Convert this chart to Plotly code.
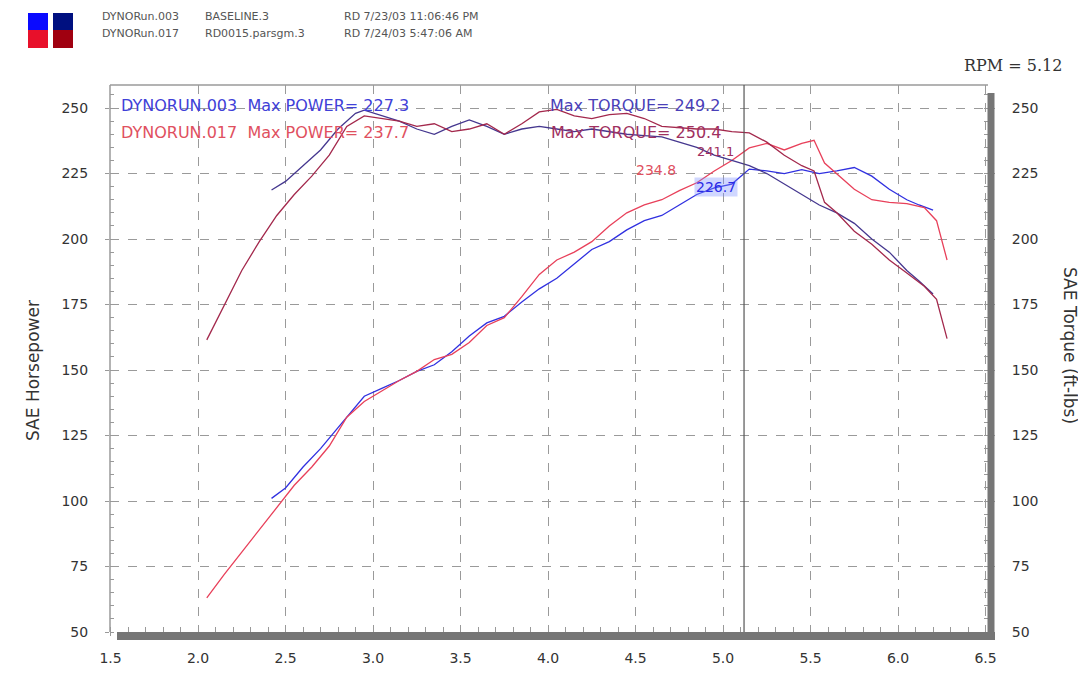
import plotly.graph_objects as go

# ---------------- data ----------------
rpm_017 = [2.05, 2.15, 2.25, 2.35, 2.45, 2.55, 2.65, 2.75, 2.85, 2.95, 3.05, 3.15, 3.25, 3.35,
           3.45, 3.55, 3.65, 3.75, 3.85, 3.95, 4.05, 4.15, 4.25, 4.35, 4.45, 4.55, 4.65, 4.75,
           4.85, 4.95, 5.05, 5.15, 5.25, 5.35, 5.45, 5.52, 5.58, 5.65, 5.75, 5.85, 5.95, 6.05,
           6.15, 6.22, 6.28]
tq_017 = [161.5, 175, 188, 199, 209, 217, 224, 232, 243, 247, 246, 245, 243, 244,
          241, 242, 244, 240, 244, 248.5, 249.5, 247, 246, 247.5, 248, 246, 243, 242.5,
          242, 242, 241, 240.5, 237, 232, 228, 226, 214, 210, 203, 198, 192, 187,
          182, 177, 162]
hp_017 = [63, 72, 80.5, 89, 97.5, 106, 113, 121, 132, 138, 142, 146, 149.5, 154,
          156, 160.5, 167, 170, 178, 186.5, 192, 195, 199, 205, 210, 213, 215, 218.5,
          221.5, 226, 230, 234.8, 236.5, 234, 236.5, 237.7, 229, 225, 219, 215, 214, 213.5,
          212, 207, 192]

rpm_003 = [2.42, 2.5, 2.6, 2.7, 2.8, 2.9, 2.95, 3.05, 3.15, 3.25, 3.35, 3.45, 3.55, 3.65,
           3.75, 3.85, 3.95, 4.05, 4.15, 4.25, 4.35, 4.45, 4.55, 4.65, 4.75, 4.85, 4.95, 5.05,
           5.15, 5.25, 5.35, 5.45, 5.55, 5.65, 5.75, 5.85, 5.95, 6.05, 6.12, 6.2]
tq_003 = [218.7, 222, 228, 234, 242, 248, 249.2, 247, 245, 242, 240, 243, 245.5, 243,
          240, 242, 243, 242, 241, 242, 241, 240, 239.5, 239, 237, 235, 232, 230,
          228, 225, 221, 217, 213, 210, 206, 200, 195, 188, 184, 179]
hp_003 = [101, 105, 113, 120, 128, 136, 140, 143, 146, 149.5, 152, 157, 163, 168,
          170.5, 176, 181, 185, 190.5, 196, 199, 203.5, 207, 209, 213, 217, 219.5, 221,
          226.7, 226, 225, 226.5, 225, 226, 227.3, 224, 219, 215, 213, 211]

x_ticks = [1.5, 2.0, 2.5, 3.0, 3.5, 4.0, 4.5, 5.0, 5.5, 6.0, 6.5]
y_ticks = [50, 75, 100, 125, 150, 175, 200, 225, 250]
cursor_rpm = 5.12

legend_rows = [
    ["DYNORun.003", "BASELINE.3", "RD 7/23/03 11:06:46 PM"],
    ["DYNORun.017", "RD0015.parsgm.3", "RD 7/24/03 5:47:06 AM"],
]

C_HP003 = "#3030e0"
C_TQ003 = "#45378f"
C_HP017 = "#e8405a"
C_TQ017 = "#a3284c"

# the page body adds an 8 px offset; geometry below is in page pixels
OFF = 8
FIG_W, FIG_H = 1086 - OFF, 677 - OFF
L, R, T, B = 110, 988, 85, 632
W, H = R - L, B - T


def px(xp):
    return (xp - L) / W


def py(yp):
    return (B - yp) / H


fig = go.Figure()
fig.add_trace(go.Scatter(x=rpm_003, y=hp_003, mode="lines", line=dict(color=C_HP003, width=1.3),
                         showlegend=False))
fig.add_trace(go.Scatter(x=rpm_017, y=hp_017, mode="lines", line=dict(color=C_HP017, width=1.3),
                         showlegend=False))
fig.add_trace(go.Scatter(x=rpm_003, y=tq_003, mode="lines", line=dict(color=C_TQ003, width=1.3),
                         showlegend=False))
fig.add_trace(go.Scatter(x=rpm_017, y=tq_017, mode="lines", line=dict(color=C_TQ017, width=1.3),
                         showlegend=False))
fig.add_trace(go.Scatter(x=[None], y=[None], yaxis="y2", showlegend=False))

tick_font = dict(family="DejaVu Sans", size=14, color="#333333")
yr = [50, 258.8]
xr = [1.497, 6.514]

fig.update_layout(
    width=FIG_W, height=FIG_H,
    margin=dict(l=L - OFF, r=FIG_W - (R - OFF), t=T - OFF, b=FIG_H - (B - OFF), autoexpand=False),
    paper_bgcolor="white", plot_bgcolor="white",
    xaxis=dict(range=xr, tickvals=x_ticks, ticktext=[f"{v:.1f}" for v in x_ticks],
               showgrid=True, gridcolor="#9a9a9a", griddash="dash", gridwidth=1,
               ticks="outside", ticklen=3, tickcolor="#999", tickfont=tick_font,
               minor=dict(dtick=0.1, ticks="inside", ticklen=5, tickcolor="#999", showgrid=False),
               zeroline=False, showline=False, automargin=False, ticklabelstandoff=10),
    yaxis=dict(range=yr, tickvals=y_ticks, showgrid=True, gridcolor="#9a9a9a", griddash="dash",
               ticks="outside", ticklen=4, tickcolor="#999", tickfont=tick_font,
               minor=dict(dtick=5, ticks="inside", ticklen=4, tickcolor="#999", showgrid=False),
               zeroline=False, showline=False, ticklabelstandoff=14, automargin=False),
    yaxis2=dict(range=yr, tickvals=y_ticks, overlaying="y", side="right", showgrid=False,
                ticks="outside", ticklen=6, tickcolor="#999", tickfont=tick_font,
                minor=dict(dtick=5, ticks="inside", ticklen=4, tickcolor="#999"),
                zeroline=False, showline=False, ticklabelstandoff=14, automargin=False),
    font=dict(family="DejaVu Sans"),
)

# frame: thin top/left, thick dark right/bottom (shadow)
fig.add_shape(type="line", xref="paper", yref="paper", x0=0, x1=1, y0=1, y1=1,
              line=dict(color="#9a9a9a", width=1.5))
fig.add_shape(type="line", xref="paper", yref="paper", x0=0, x1=0, y0=0, y1=1,
              line=dict(color="#9a9a9a", width=1.5))
fig.add_shape(type="line", xref="paper", yref="paper", x0=px(117), x1=px(995), y0=py(636), y1=py(636),
              line=dict(color="#767676", width=8))
fig.add_shape(type="line", xref="paper", yref="paper", x0=px(991), x1=px(991), y0=py(640), y1=py(93),
              line=dict(color="#767676", width=7))

# cursor line
fig.add_shape(type="line", xref="x", yref="paper", x0=cursor_rpm, x1=cursor_rpm, y0=0, y1=1,
              line=dict(color="#555555", width=1.2))

# text annotations
fig.add_annotation(xref="paper", yref="paper", x=px(1013), y=py(65), xanchor="center",
                   yanchor="middle", text=f"RPM = {cursor_rpm}", showarrow=False,
                   font=dict(family="DejaVu Serif", size=16, color="#333333"))

ann_font = "DejaVu Sans"
fig.add_annotation(x=1.549, y=250.8, xanchor="left", showarrow=False,
                   text="DYNORUN.003  Max POWER= 227.3",
                   font=dict(family=ann_font, size=16, color="#4040d8"))
fig.add_annotation(x=1.549, y=240.5, xanchor="left", showarrow=False,
                   text="DYNORUN.017  Max POWER= 237.7",
                   font=dict(family=ann_font, size=16, color="#e05060"))
fig.add_annotation(x=4.0, y=250.8, xanchor="left", showarrow=False,
                   text="Max TORQUE= 249.2", font=dict(family=ann_font, size=16, color="#4a40b8"))
fig.add_annotation(x=4.006, y=240.8, xanchor="left", showarrow=False,
                   text="Max TORQUE= 250.4", font=dict(family=ann_font, size=16, color="#a03060"))
fig.add_annotation(x=4.84, y=233.3, xanchor="left", showarrow=False,
                   text="241.1", font=dict(family=ann_font, size=13, color="#a03060"))
fig.add_annotation(x=4.49, y=226.3, xanchor="left", showarrow=False,
                   text="234.8", font=dict(family=ann_font, size=14, color="#e05060"))
fig.add_annotation(x=4.835, y=219.8, xanchor="left", showarrow=False,
                   text="226.7", font=dict(family=ann_font, size=14, color="#2b2be6"),
                   bgcolor="rgba(120,140,255,0.35)")

# axis titles
fig.add_annotation(xref="paper", yref="paper", x=px(33), y=py(371), textangle=-90,
                   xanchor="center", yanchor="middle",
                   text="SAE Horsepower", showarrow=False,
                   font=dict(family="DejaVu Sans", size=17, color="#333333"))
fig.add_annotation(xref="paper", yref="paper", x=px(1070), y=py(345), textangle=90,
                   xanchor="center", yanchor="middle",
                   text="SAE Torque (ft-lbs)", showarrow=False,
                   font=dict(family="DejaVu Sans", size=17, color="#333333"))

# header swatches
sw = [("#0a0aff", "#e8102a"), ("#001080", "#a00010")]
for i, (ctop, cbot) in enumerate(sw):
    x0 = 28 + i * 25
    fig.add_shape(type="rect", xref="paper", yref="paper", x0=px(x0), x1=px(x0 + 20),
                  y0=py(30), y1=py(13), line=dict(width=0), fillcolor=ctop)
    fig.add_shape(type="rect", xref="paper", yref="paper", x0=px(x0), x1=px(x0 + 20),
                  y0=py(48), y1=py(30), line=dict(width=0), fillcolor=cbot)

col_x = [100, 203, 342]
for r, row in enumerate(legend_rows):
    for c, txt in enumerate(row):
        fig.add_annotation(xref="paper", yref="paper", x=px(col_x[c]), y=py(17 + r * 16),
                           xanchor="left", yanchor="middle", text=txt, showarrow=False,
                           font=dict(family="DejaVu Sans", size=11, color="#555555"))

fig.write_html("out.html")
